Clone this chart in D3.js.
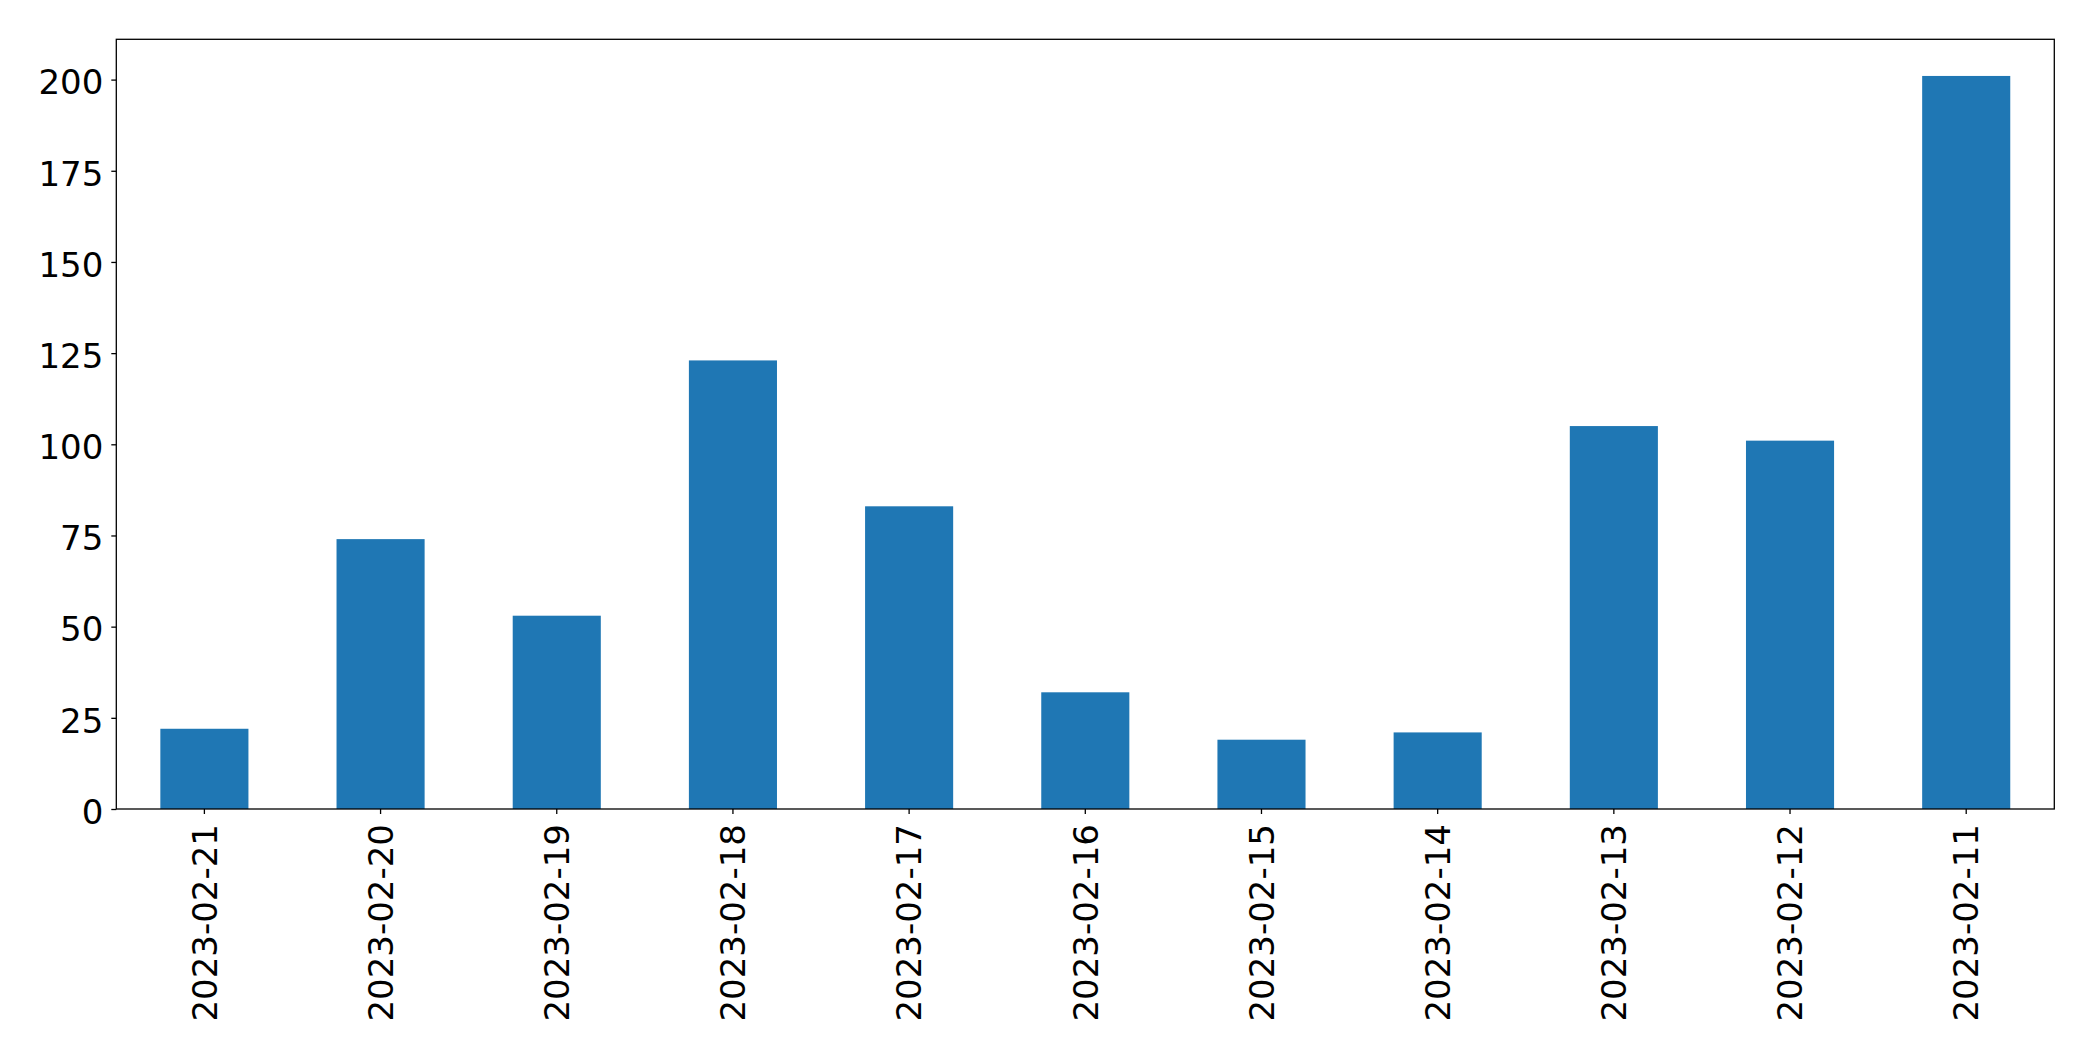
<!DOCTYPE html>
<html><head><meta charset="utf-8">
<script src="https://cdn.jsdelivr.net/npm/d3@7"></script>
<style>html,body{margin:0;padding:0;background:#fff;}svg{display:block;}</style>
</head><body>
<svg id="chart" width="2093" height="1061"></svg>
<script>
const categories = ["2023-02-21","2023-02-20","2023-02-19","2023-02-18","2023-02-17","2023-02-16","2023-02-15","2023-02-14","2023-02-13","2023-02-12","2023-02-11"];
const values = [22, 74, 53, 123, 83, 32, 19, 21, 105, 101, 201];
const yTicks = [0, 25, 50, 75, 100, 125, 150, 175, 200];

const svg = d3.select("#chart");
const plotLeft = 116.3, plotRight = 2054.3, plotTop = 39.3, plotBottom = 809;
const fontFamily = "'DejaVu Sans', sans-serif";
const fontSize = 34;

const x = d3.scaleBand().domain(categories).range([plotLeft, plotRight]).paddingInner(0.5).paddingOuter(0.25);
const yMax = d3.max(values) * 1.05;
const y = d3.scaleLinear().domain([0, yMax]).range([plotBottom, plotTop]);

svg.append("g").selectAll("rect").data(values).join("rect")
  .attr("x", (d, i) => x(categories[i]))
  .attr("width", x.bandwidth())
  .attr("y", d => y(d))
  .attr("height", d => y(0) - y(d))
  .attr("fill", "#1f77b4");

// Y axis
const yAxis = svg.append("g").attr("transform", `translate(${plotLeft},0)`)
  .call(d3.axisLeft(y).tickValues(yTicks).tickSize(5).tickPadding(8).tickFormat(d3.format("d")));
yAxis.select(".domain").remove();
yAxis.selectAll(".tick line").attr("stroke", "#000").attr("stroke-width", 1.3);
yAxis.selectAll(".tick text").attr("font-family", fontFamily).attr("font-size", fontSize)
  .attr("fill", "#000").attr("dy", "0.42em");

// X axis
const xAxis = svg.append("g").attr("transform", `translate(0,${plotBottom})`)
  .call(d3.axisBottom(x).tickSize(5).tickPadding(0));
xAxis.select(".domain").remove();
xAxis.selectAll(".tick line").attr("stroke", "#000").attr("stroke-width", 1.3);
xAxis.selectAll(".tick text")
  .attr("font-family", fontFamily).attr("font-size", fontSize).attr("fill", "#000")
  .attr("text-anchor", "end")
  .attr("transform", "translate(0,15) rotate(-90)")
  .attr("x", 0).attr("y", 0).attr("dy", "0.36em");

// frame
svg.append("rect").attr("x", plotLeft).attr("y", plotTop)
  .attr("width", plotRight - plotLeft).attr("height", plotBottom - plotTop)
  .attr("fill", "none").attr("stroke", "#000").attr("stroke-width", 1.3);
</script>
</body></html>
